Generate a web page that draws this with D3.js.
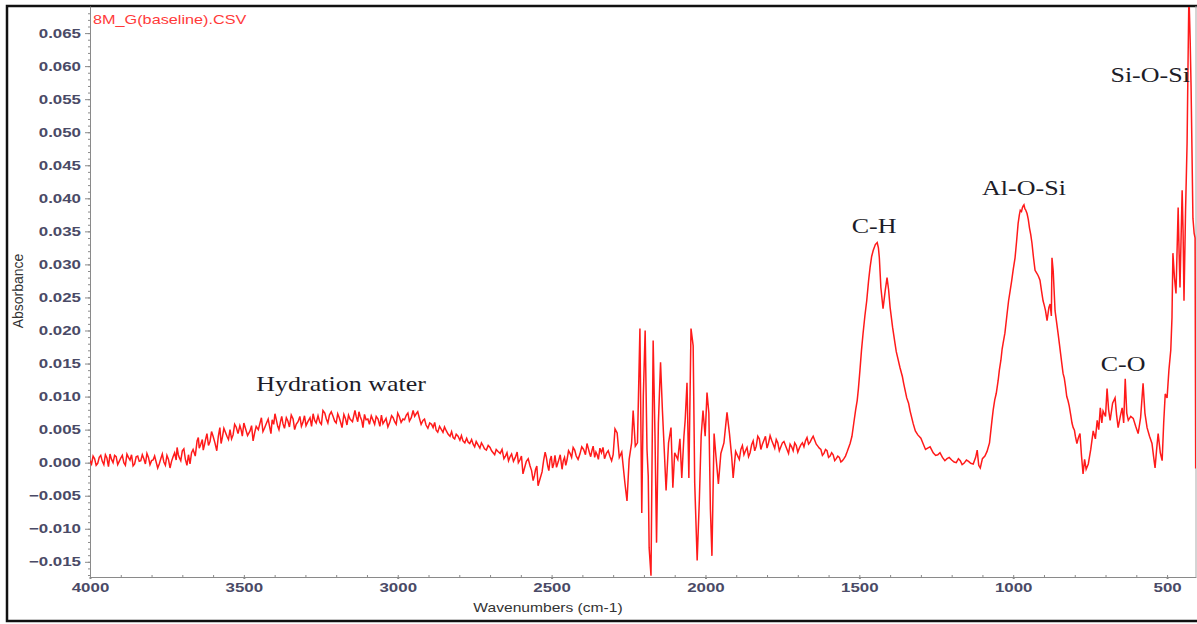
<!DOCTYPE html>
<meta charset="utf-8">
<style>
body { margin: 0; background: #fff; }
.line { fill: none; stroke: #ff1a1a; stroke-width: 1.5px; stroke-linejoin: miter; }
.axis path, .axis line { stroke: #8a8a8a; }
.tick-label { font-family: "Liberation Sans", Arial, sans-serif; font-size: 13px; font-weight: bold; fill: #4a4a66; }
.note { font-family: "Liberation Serif", "Times New Roman", serif; font-size: 20px; fill: #1c1c28; }
</style>
<body>
<script src="https://d3js.org/d3.v7.min.js"></script>
<script>

// spectrum pieces, [wavenumber cm-1, absorbance]
var baseline = [
  [4000,0.0003],[3990,0.0010],[3980,-0.0004],[3970,0.0008],[3960,0.0002],[3950,0.0012],[3940,-0.0006],[3930,0.0005],
  [3920,0.0011],[3910,-0.0003],[3900,0.0007],[3890,0.0000],[3880,0.0013],[3870,0.0004],[3860,-0.0005],[3850,0.0009],
  [3840,0.0002],[3830,0.0012],[3820,-0.0002],[3810,0.0008],[3800,0.0003],[3790,0.0010],[3780,-0.0008],[3770,0.0006],
  [3760,0.0001],[3750,0.0011],[3740,-0.0008],[3730,0.0009],[3720,0.0004],[3717,0.0023],[3710,0.0008],[3700,0.0018],
  [3690,0.0005],[3680,0.0012],[3675,-0.0002],[3665,0.0020],[3652,0.0033],[3645,0.0022],[3635,0.0035],[3628,0.0027],
  [3620,0.0044],[3610,0.0032],[3600,0.0040],[3588,0.0018],[3578,0.0053],[3570,0.0038],[3560,0.0046],[3550,0.0035],
  [3545,0.0050],[3535,0.0042],[3525,0.0054],[3513,0.0056],[3505,0.0040],[3495,0.0052],[3480,0.0048],[3470,0.0033],
  [3460,0.0055],[3447,0.0061],[3438,0.0047],[3428,0.0058],[3415,0.0051],[3408,0.0065],[3399,0.0074],[3390,0.0055],
  [3381,0.0062],[3373,0.0059],[3362,0.0068],[3352,0.0054],[3340,0.0066],[3330,0.0058],[3318,0.0070],[3308,0.0061],
  [3298,0.0056],[3285,0.0068],[3275,0.0074],[3265,0.0060],[3253,0.0061],[3243,0.0079],[3232,0.0066],[3222,0.0072],
  [3210,0.0070],[3200,0.0060],[3190,0.0068],[3181,0.0053],[3170,0.0067],[3160,0.0072],[3155,0.0066],[3139,0.0079],
  [3130,0.0062],[3122,0.0070],[3113,0.0053],[3103,0.0065],[3092,0.0058],[3080,0.0064],[3070,0.0070],[3058,0.0055],
  [3048,0.0059],[3038,0.0067],[3026,0.0061],[3015,0.0068],[3005,0.0058],[2995,0.0070],[2983,0.0066],[2972,0.0072],
  [2962,0.0063],[2950,0.0079],[2940,0.0074],[2930,0.0068],[2918,0.0064],[2908,0.0057],[2896,0.0060],[2885,0.0053],
  [2875,0.0049],[2864,0.0055],[2853,0.0046],[2842,0.0048],[2830,0.0040],[2820,0.0038],[2810,0.0043],[2798,0.0034],
  [2788,0.0033],[2776,0.0037],[2766,0.0029],[2755,0.0028],[2745,0.0032],[2733,0.0022],[2723,0.0026],[2712,0.0019],
  [2700,0.0023],[2690,0.0015],[2680,0.0020],[2667,0.0014],[2655,0.0006],[2645,0.0015],[2635,0.0009],[2624,0.0002],
  [2612,0.0016],[2603,0.0004],[2593,-0.0017],[2582,0.0002],[2570,-0.0005],[2560,-0.0027],[2552,-0.0010],[2544,-0.0035],
  [2531,-0.0014],[2521,0.0016],[2513,-0.0004],[2505,0.0004],[2497,-0.0008],[2489,0.0011],[2478,0.0002],[2466,-0.0010],
  [2458,0.0008],[2450,0.0004],[2440,0.0014],[2430,0.0023],[2420,0.0010],[2408,0.0013],[2396,0.0020],[2385,0.0029],
  [2377,0.0015],[2369,0.0018],[2360,0.0008],[2352,0.0012],[2343,0.0022],[2333,0.0023],[2322,0.0014],[2310,0.0009]
];

// in-between readings of the fuzzy baseline
var baselineFine = [
  [3995,-0.0002],[3985,0.0006],[3975,-0.0001],[3965,0.0011],[3955,-0.0003],[3945,0.0007],[3935,0.0013],[3925,0.0000],
  [3915,0.0009],[3905,0.0002],[3895,0.0011],[3885,-0.0004],[3875,0.0008],[3865,0.0012],[3855,-0.0002],[3845,0.0010],
  [3835,0.0003],[3825,0.0006],[3815,0.0014],[3805,-0.0003],[3795,0.0004],[3785,0.0001],[3775,-0.0002],[3765,0.0013],
  [3755,-0.0004],[3745,0.0005],[3735,0.0002],[3725,0.0015],[3713,0.0012],[3705,0.0003],[3695,0.0021],[3685,-0.0004],
  [3670,0.0015],[3658,0.0010],[3648,0.0038],[3640,0.0028],[3632,0.0019],[3624,0.0036],[3615,0.0026],[3605,0.0047],
  [3594,0.0030],[3583,0.0040],[3574,0.0029],[3565,0.0052],[3555,0.0040],[3540,0.0036],[3530,0.0058],[3519,0.0044],
  [3509,0.0050],[3500,0.0060],[3488,0.0041],[3475,0.0056],[3465,0.0045],[3453,0.0050],[3443,0.0068],[3433,0.0052],
  [3421,0.0066],[3412,0.0044],[3403,0.0058],[3395,0.0066],[3386,0.0050],[3377,0.0070],[3368,0.0052],[3357,0.0063],
  [3346,0.0072],[3335,0.0050],[3324,0.0062],[3313,0.0055],[3303,0.0071],[3292,0.0062],[3280,0.0055],[3270,0.0064],
  [3259,0.0071],[3248,0.0058],[3237,0.0075],[3227,0.0060],[3216,0.0077],[3205,0.0063],[3195,0.0074],[3185,0.0060],
  [3175,0.0073],[3165,0.0057],[3147,0.0062],[3135,0.0070],[3126,0.0077],[3117,0.0064],[3108,0.0073],[3097,0.0066],
  [3086,0.0071],[3075,0.0058],[3064,0.0066],[3053,0.0072],[3043,0.0063],[3032,0.0054],[3020,0.0071],[3010,0.0062],
  [3000,0.0075],[2989,0.0061],[2978,0.0065],[2967,0.0075],[2956,0.0068],[2945,0.0070],[2935,0.0077],[2924,0.0058],
  [2913,0.0066],[2902,0.0052],[2890,0.0058],[2880,0.0061],[2870,0.0046],[2858,0.0050],[2848,0.0054],[2836,0.0043],
  [2825,0.0047],[2815,0.0036],[2804,0.0040],[2793,0.0041],[2782,0.0030],[2771,0.0031],[2760,0.0035],[2750,0.0024],
  [2739,0.0027],[2728,0.0030],[2718,0.0021],[2706,0.0026],[2695,0.0018],[2685,0.0012],[2674,0.0017],[2661,0.0020],
  [2650,0.0010],[2640,0.0003],[2630,0.0013],[2618,0.0008],[2608,0.0000],[2598,0.0010],[2588,-0.0008],[2576,0.0006],
  [2565,-0.0012],[2556,-0.0020],[2548,-0.0005],[2538,-0.0025],[2526,0.0003],[2517,0.0008],[2509,-0.0012],[2501,0.0010],
  [2493,-0.0002],[2484,-0.0007],[2472,0.0012],[2462,0.0003],[2454,-0.0004],[2445,0.0018],[2435,0.0008],[2425,0.0019],
  [2414,0.0005],[2402,0.0024],[2390,0.0012],[2381,0.0022],[2373,0.0009],[2365,0.0025],[2356,0.0016],[2348,0.0005],
  [2338,0.0015],[2328,0.0006],[2316,0.0018],[2305,0.0003]
];

var noisyBand = [
  [2300,0.0012],[2294,0.0051],[2287,0.0045],[2280,0.0008],[2272,0.0016],[2262,-0.0030],[2255,-0.0058],[2248,0.0005],
  [2240,0.0030],[2235,0.0079],[2228,0.0025],[2221,0.0030],[2213,0.0203],[2207,-0.0076],[2202,0.0100],[2196,0.0200],
  [2190,0.0020],[2186,-0.0020],[2183,-0.0129],[2177,-0.0171],[2170,0.0185],[2164,0.0040],[2159,-0.0121],[2153,0.0060],
  [2146,0.0152],[2140,0.0080],[2134,0.0020],[2128,-0.0042],[2120,0.0030],[2112,0.0053],[2106,-0.0038],[2100,0.0015],
  [2090,0.0005],[2083,0.0036],[2077,-0.0023],[2070,0.0040],[2066,0.0064],[2060,0.0121],[2054,-0.0023],[2047,0.0203],
  [2040,0.0177],[2035,-0.0030],[2027,-0.0148],[2020,-0.0058],[2014,0.0040],[2008,0.0079],[2001,0.0040],[1995,0.0106],
  [1989,0.0075],[1984,-0.0070],[1979,-0.0141],[1972,0.0044],[1966,0.0010],[1958,-0.0032],[1950,0.0014],[1940,0.0030],
  [1930,0.0076],[1922,0.0044],[1915,0.0010],[1910,-0.0023],[1902,0.0017],[1895,0.0010],[1885,0.0020],[1875,0.0012],
  [1865,0.0023],[1855,0.0015],[1845,0.0033],[1835,0.0025],[1825,0.0036],[1815,0.0028],[1805,0.0040],[1795,0.0030],
  [1785,0.0034],[1775,0.0022],[1765,0.0030],[1755,0.0024],[1745,0.0032],[1735,0.0020],[1725,0.0028],[1715,0.0018],
  [1705,0.0026],[1695,0.0022],[1685,0.0030],[1675,0.0033],[1665,0.0028],[1655,0.0036],[1645,0.0034],[1635,0.0025],
  [1625,0.0020],[1615,0.0014],[1605,0.0018],[1595,0.0010],[1585,0.0012],[1575,0.0006],[1565,0.0008],[1555,0.0003]
];

var noisyFine = [
  [1890,0.0005],[1880,0.0026],[1870,0.0018],[1860,0.0009],[1850,0.0027],[1840,0.0018],[1830,0.0040],[1820,0.0020],
  [1810,0.0034],[1800,0.0022],[1790,0.0041],[1780,0.0028],[1770,0.0035],[1760,0.0018],[1750,0.0030],[1740,0.0026],
  [1730,0.0014],[1720,0.0024],[1710,0.0030],[1700,0.0016],[1690,0.0027],[1680,0.0024],[1670,0.0038],[1660,0.0031],
  [1650,0.0040],[1640,0.0028],[1630,0.0022],[1620,0.0011],[1610,0.0020],[1600,0.0008],[1590,0.0015],[1580,0.0003],
  [1570,0.0010],[1560,0.0001],[1550,0.0006]
];

var chPeak = [
  [1545,0.0010],[1540,0.0016],[1530,0.0029],[1524,0.0040],[1518,0.0060],[1512,0.0080],[1507,0.0094],[1503,0.0112],
  [1498,0.0140],[1493,0.0170],[1488,0.0195],[1482,0.0222],[1476,0.0245],[1470,0.0275],[1465,0.0296],[1460,0.0312],
  [1455,0.0321],[1448,0.0330],[1442,0.0333],[1438,0.0325],[1435,0.0310],[1430,0.0265],[1423,0.0233],[1416,0.0260],
  [1410,0.0280],[1405,0.0262],[1400,0.0235],[1392,0.0205],[1384,0.0180],[1380,0.0168],[1376,0.0160],[1368,0.0144],
  [1360,0.0130],[1356,0.0120],[1346,0.0098],[1340,0.0090],[1335,0.0078],[1325,0.0059],[1318,0.0048],[1310,0.0042],
  [1300,0.0037],[1293,0.0029],[1285,0.0020],[1278,0.0022],[1270,0.0024],[1260,0.0015],[1252,0.0011],[1245,0.0012],
  [1238,0.0015],[1230,0.0008],[1222,0.0003],[1215,0.0006],[1208,0.0008],[1200,0.0004],[1192,0.0001],[1185,0.0000],
  [1178,0.0006],[1172,0.0003],[1166,-0.0003],[1160,-0.0001],[1152,0.0004],[1145,0.0002],[1138,-0.0001],[1130,-0.0002],
  [1122,0.0008],[1117,0.0019],[1112,-0.0004],[1107,-0.0008],[1100,0.0006],[1092,0.0010],[1085,0.0017],[1077,0.0030]
];

var alOSiPeak = [
  [1069,0.0064],[1065,0.0080],[1060,0.0095],[1055,0.0105],[1049,0.0124],[1045,0.0140],[1040,0.0155],[1036,0.0172],
  [1033,0.0180],[1027,0.0196],[1020,0.0225],[1015,0.0245],[1010,0.0260],[1005,0.0275],[1000,0.0292],[994,0.0310],
  [989,0.0335],[984,0.0362],[980,0.0375],[977,0.0382],[973,0.0380],[970,0.0386],[968,0.0388],[965,0.0390],
  [962,0.0384],[960,0.0383],[955,0.0377],[951,0.0368],[947,0.0355],[943,0.0345],[939,0.0332],[934,0.0310],
  [929,0.0291],[925,0.0288],[920,0.0284],[917,0.0281],[913,0.0276],[908,0.0260],[903,0.0245],[899,0.0238],
  [895,0.0230],[890,0.0215],[884,0.0235],[880,0.0240],[876,0.0222],[874,0.0310],[870,0.0290],[864,0.0230],
  [854,0.0195],[850,0.0180],[846,0.0165],[842,0.0150],[838,0.0135],[834,0.0128],[830,0.0115],[826,0.0100],
  [822,0.0094],[818,0.0086],[813,0.0072],[809,0.0060],[805,0.0053],[801,0.0049],[798,0.0040],[793,0.0029],
  [788,0.0038],[783,0.0044],[778,0.0010],[773,-0.0017],[768,0.0005],[763,-0.0010],[756,-0.0002]
];

var fingerprint = [
  [748,0.0020],[740,0.0048],[733,0.0036],[727,0.0064],[722,0.0050],[717,0.0083],[712,0.0060],[708,0.0078],
  [700,0.0070],[695,0.0112],[690,0.0080],[685,0.0064],[677,0.0090],[669,0.0098],[664,0.0072],[659,0.0053],
  [652,0.0070],[646,0.0083],[641,0.0060],[636,0.0127],[631,0.0075],[626,0.0064],[618,0.0070],[610,0.0067],
  [602,0.0055],[594,0.0044],[586,0.0068],[578,0.0120],[572,0.0075],[565,0.0053],[557,0.0040],[549,0.0029],
  [544,0.0010],[539,-0.0008],[534,0.0020],[529,0.0044],[522,0.0015],[516,0.0003],[511,0.0060],[506,0.0104],
  [500,0.0098],[494,0.0140],[488,0.0170],[484,0.0220],[481,0.0317],[476,0.0280],[471,0.0256],[467,0.0330],
  [464,0.0386],[461,0.0320],[458,0.0265],[454,0.0350],[451,0.0412],[448,0.0350],[445,0.0245],[440,0.0380],
  [435,0.0483],[432,0.0600],[429,0.0710],[425,0.0640],[422,0.0568],[419,0.0470],[416,0.0370],[412,0.0347],
  [409,0.0340],[407,-0.0009]
];

var xTicks = [4000, 3500, 3000, 2500, 2000, 1500, 1000, 500];
var yTicks = [-0.015, -0.010, -0.005, 0.000, 0.005, 0.010, 0.015, 0.020, 0.025, 0.030,
              0.035, 0.040, 0.045, 0.050, 0.055, 0.060, 0.065];

var notes = [
  {text: "Hydration water", w: 3184, a: 0.0109},
  {text: "C-H", w: 1452, a: 0.0348},
  {text: "Al-O-Si", w: 965, a: 0.0405},
  {text: "C-O", w: 643, a: 0.0139},
  {text: "Si-O-Si", w: 555, a: 0.0576}
];

var spectrum = baseline.concat(baselineFine, noisyBand, noisyFine, chPeak, alOSiPeak, fingerprint)
    .sort(function(a, b) { return b[0] - a[0]; });

var W = 1197, H = 624;
var plotLeft = 90, plotTop = 6, plotRight = 1196, plotBottom = 577;
var stretch = 1.3; // the picture is widened sideways, text too

var svg = d3.select("body").append("svg")
    .attr("width", W)
    .attr("height", H);

// outer frame
svg.append("rect")
    .attr("x", 7).attr("y", 6)
    .attr("width", 1200).attr("height", 615)
    .attr("fill", "none")
    .attr("stroke", "#111")
    .attr("stroke-width", 2.5);

var x = d3.scaleLinear().domain([4000, 406]).range([plotLeft, plotRight]);
var y = d3.scaleLinear().domain([-0.0173, 0.0691]).range([plotBottom, plotTop]);

svg.append("defs").append("clipPath").attr("id", "plot")
  .append("rect")
    .attr("x", plotLeft).attr("y", plotTop + 1)
    .attr("width", plotRight - plotLeft).attr("height", plotBottom - plotTop - 1);

// right edge of the plot box
svg.append("line")
    .attr("x1", plotRight).attr("x2", plotRight)
    .attr("y1", plotTop).attr("y2", plotBottom)
    .attr("stroke", "#aaa");

// minor ticks
svg.append("g")
    .attr("class", "axis")
    .attr("transform", "translate(" + plotLeft + ",0)")
    .call(d3.axisLeft(y).tickValues(d3.range(-17, 69).map(function(i) { return i / 1000; }))
      .tickSize(2).tickFormat(""))
    .call(function(g) { g.select(".domain").remove(); });

svg.append("g")
    .attr("class", "axis")
    .attr("transform", "translate(0," + plotBottom + ")")
    .call(d3.axisBottom(x).tickValues(d3.range(500, 4001, 100)).tickSize(-2).tickFormat(""))
    .call(function(g) { g.select(".domain").remove(); });

// y axis
var yAxis = svg.append("g")
    .attr("class", "axis")
    .attr("transform", "translate(" + plotLeft + ",0)")
    .call(d3.axisLeft(y).tickValues(yTicks).tickSize(5).tickPadding(4)
      .tickFormat(d3.format(".3f")).tickSizeOuter(0));
yAxis.selectAll(".tick line").attr("stroke", "#666");
yAxis.selectAll("text")
    .attr("class", "tick-label")
    .attr("x", -9 / stretch)
    .attr("transform", "scale(" + stretch + ",1)");

// x axis
var xAxis = svg.append("g")
    .attr("class", "axis")
    .attr("transform", "translate(0," + plotBottom + ")")
    .call(d3.axisBottom(x).tickValues(xTicks).tickSize(2).tickPadding(4)
      .tickFormat(d3.format("d")).tickSizeOuter(0));
xAxis.selectAll(".tick line").attr("stroke", "#444").attr("stroke-width", 2);
xAxis.selectAll("text")
    .attr("class", "tick-label")
    .attr("transform", "scale(" + stretch + ",1)");

// spectrum
var line = d3.line()
    .x(function(d) { return x(d[0]); })
    .y(function(d) { return y(d[1]); });

svg.append("path")
    .datum(spectrum)
    .attr("class", "line")
    .attr("clip-path", "url(#plot)")
    .attr("d", line);

// annotations
svg.selectAll(".note")
    .data(notes)
  .enter().append("text")
    .attr("class", "note")
    .attr("text-anchor", "middle")
    .attr("transform", function(d) {
      return "translate(" + x(d.w) + "," + y(d.a) + ") scale(" + stretch + ",1)";
    })
    .text(function(d) { return d.text; });

// file name
svg.append("text")
    .attr("transform", "translate(93,24) scale(" + stretch + ",1)")
    .style("font-family", "'Liberation Sans', Arial, sans-serif")
    .style("font-size", "12.5px")
    .style("fill", "#ff3a3a")
    .text("8M_G(baseline).CSV");

// axis titles
svg.append("text")
    .attr("transform", "translate(548,612) scale(" + stretch + ",1)")
    .attr("text-anchor", "middle")
    .style("font-family", "'Liberation Sans', Arial, sans-serif")
    .style("font-size", "12px")
    .style("fill", "#333")
    .text("Wavenumbers (cm-1)");

svg.append("text")
    .attr("transform", "translate(23,291) rotate(-90)")
    .attr("text-anchor", "middle")
    .style("font-family", "'Liberation Sans', Arial, sans-serif")
    .style("font-size", "14px")
    .style("fill", "#333")
    .text("Absorbance");

</script>
</body>
